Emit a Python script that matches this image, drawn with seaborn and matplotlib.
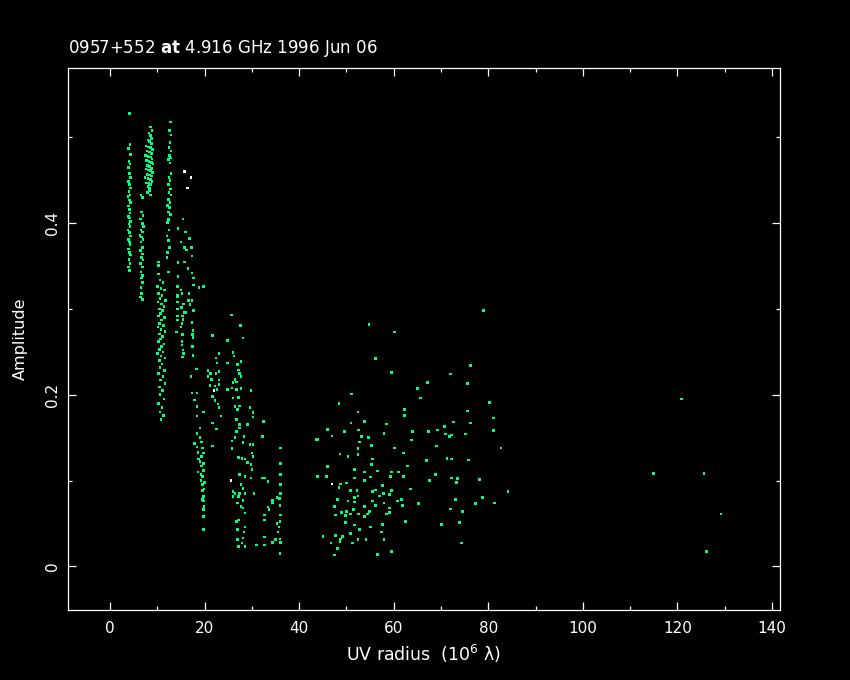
import matplotlib
matplotlib.use("Agg")
import matplotlib.pyplot as plt
from matplotlib import ticker
import seaborn as sns
import pandas as pd

track_4 = [(4.1, 0.528), (4.2, 0.492), (3.9, 0.487), (4.3, 0.480), (4.0, 0.472), (4.2, 0.469), (3.9, 0.465),
           (4.1, 0.458), (4.3, 0.453), (3.9, 0.449), (4.1, 0.445), (4.3, 0.441), (4.0, 0.437), (4.2, 0.433),
           (3.8, 0.431), (4.1, 0.427), (4.3, 0.424), (3.9, 0.420), (4.1, 0.416), (4.2, 0.412), (3.9, 0.408),
           (4.1, 0.406), (4.3, 0.402), (4.0, 0.399), (4.2, 0.396), (3.8, 0.392), (4.1, 0.389), (4.3, 0.385),
           (3.9, 0.381), (4.1, 0.378), (4.2, 0.375), (3.9, 0.370), (4.1, 0.366), (4.3, 0.363), (4.0, 0.358),
           (4.2, 0.353), (3.9, 0.349), (4.1, 0.345)]
track_7 = [(6.5, 0.433), (6.9, 0.430), (6.6, 0.413), (7.0, 0.409), (6.4, 0.405), (6.8, 0.400), (7.1, 0.396),
           (6.5, 0.392), (6.9, 0.390), (6.3, 0.386), (6.7, 0.384), (7.0, 0.381), (6.5, 0.378), (6.8, 0.372),
           (6.4, 0.368), (6.9, 0.364), (6.6, 0.360), (7.0, 0.357), (6.4, 0.353), (6.8, 0.349), (6.5, 0.343),
           (6.9, 0.339), (6.6, 0.336), (6.8, 0.331), (6.5, 0.325), (6.7, 0.318), (6.4, 0.314), (6.8, 0.311)]
track_8 = [(8.6, 0.512), (8.9, 0.508), (8.2, 0.505), (8.5, 0.502), (8.8, 0.499), (8.0, 0.497), (8.4, 0.495),
           (8.7, 0.493), (7.6, 0.490), (8.1, 0.489), (8.6, 0.488), (9.0, 0.486), (7.8, 0.484), (8.3, 0.483),
           (8.8, 0.481), (7.5, 0.479), (8.0, 0.478), (8.5, 0.477), (8.9, 0.475), (7.7, 0.473), (8.2, 0.472),
           (8.7, 0.471), (9.1, 0.469), (7.9, 0.467), (8.4, 0.466), (8.8, 0.464), (7.6, 0.463), (8.1, 0.462),
           (8.6, 0.461), (9.0, 0.459), (7.8, 0.457), (8.3, 0.456), (8.7, 0.455), (7.4, 0.453), (8.0, 0.452),
           (8.5, 0.451), (8.9, 0.449), (7.7, 0.447), (8.2, 0.446), (8.6, 0.445), (8.0, 0.443), (8.4, 0.441),
           (8.3, 0.438), (7.9, 0.436), (8.5, 0.433)]
track_12 = [(12.8, 0.518), (12.6, 0.508), (12.9, 0.503), (12.7, 0.494), (12.5, 0.488), (12.9, 0.484),
            (12.6, 0.479), (12.8, 0.476), (12.4, 0.474), (12.7, 0.470), (12.9, 0.458), (12.5, 0.453),
            (12.7, 0.450), (12.3, 0.445), (12.8, 0.440), (12.5, 0.436), (12.9, 0.433), (12.4, 0.428),
            (12.7, 0.424), (12.2, 0.421), (12.6, 0.418), (12.3, 0.413), (12.8, 0.410), (12.4, 0.404),
            (12.1, 0.401), (12.5, 0.392), (12.0, 0.385), (12.4, 0.380), (12.6, 0.372), (12.2, 0.366),
            (12.0, 0.360)]
track_11 = [(10.2, 0.355), (10.3, 0.351), (10.2, 0.341), (12.3, 0.343), (10.6, 0.334), (11.2, 0.331),
            (10.0, 0.326), (10.8, 0.324), (11.5, 0.322), (10.3, 0.318), (11.0, 0.316), (10.6, 0.312),
            (11.7, 0.310), (10.1, 0.308), (10.9, 0.306), (11.4, 0.303), (10.4, 0.300), (11.1, 0.298),
            (10.7, 0.295), (10.2, 0.292), (11.5, 0.290), (10.9, 0.287), (10.5, 0.283), (11.3, 0.281),
            (10.1, 0.279), (10.8, 0.276), (11.6, 0.274), (10.4, 0.271), (11.1, 0.268), (10.7, 0.265),
            (10.2, 0.262), (11.4, 0.259), (10.9, 0.256), (10.5, 0.253), (11.2, 0.250), (10.0, 0.248),
            (10.8, 0.245), (11.6, 0.243), (10.4, 0.240), (11.0, 0.236), (10.6, 0.232), (11.5, 0.228),
            (10.3, 0.225), (11.2, 0.221), (10.7, 0.217), (11.6, 0.213), (10.4, 0.209), (11.1, 0.205),
            (10.6, 0.200), (11.4, 0.195), (10.3, 0.190), (11.0, 0.185), (10.6, 0.180), (11.3, 0.176),
            (10.8, 0.171)]
track_16 = [(15.4, 0.405), (16.8, 0.382), (15.0, 0.378),
            (16.0, 0.390), (14.4, 0.394), (15.8, 0.372), (17.2, 0.372), (16.2, 0.369), (17.3, 0.362),
            (15.8, 0.355), (14.4, 0.354), (16.5, 0.347), (17.3, 0.342), (14.4, 0.338), (17.6, 0.336),
            (17.6, 0.328), (14.2, 0.326), (15.0, 0.322), (15.2, 0.318), (16.7, 0.318), (14.2, 0.316),
            (14.3, 0.314), (17.3, 0.310), (14.3, 0.308), (15.5, 0.306), (16.9, 0.305), (15.1, 0.302),
            (14.2, 0.300), (15.6, 0.296), (17.7, 0.298), (15.3, 0.292), (14.2, 0.292), (14.3, 0.287),
            (15.4, 0.288), (15.2, 0.283), (17.3, 0.284), (15.0, 0.279), (17.5, 0.275), (14.0, 0.273),
            (15.3, 0.270), (17.5, 0.267), (15.2, 0.262), (15.2, 0.258), (15.4, 0.252), (17.4, 0.256),
            (15.5, 0.248), (17.5, 0.246), (15.3, 0.244), (16.6, 0.310), (16.1, 0.296)]
track_19 = [(17.4, 0.270), (17.5, 0.246), (18.3, 0.230), (17.1, 0.221), (18.4, 0.202), (17.3, 0.202),
            (17.9, 0.194), (18.4, 0.186), (19.8, 0.180), (18.4, 0.175), (19.0, 0.161), (18.4, 0.155),
            (19.0, 0.150), (19.3, 0.145), (17.9, 0.143), (18.4, 0.139), (19.6, 0.138), (19.8, 0.132),
            (18.6, 0.133), (19.4, 0.128), (18.7, 0.125), (19.0, 0.122), (19.8, 0.120), (19.4, 0.117),
            (19.8, 0.112), (18.6, 0.110), (19.2, 0.107), (19.6, 0.105), (19.2, 0.100), (20.0, 0.098),
            (19.6, 0.095), (19.9, 0.090), (19.5, 0.088), (19.8, 0.081), (19.5, 0.078), (19.8, 0.076),
            (19.9, 0.070), (19.8, 0.066), (19.8, 0.058), (19.8, 0.043), (18.8, 0.325), (19.8, 0.326)]
track_22 = [(21.7, 0.269), (22.4, 0.243), (23.0, 0.248), (22.6, 0.237), (20.7, 0.228), (21.3, 0.225),
            (22.4, 0.225), (23.0, 0.227), (20.7, 0.221), (21.5, 0.218), (23.0, 0.217), (21.1, 0.211),
            (22.2, 0.210), (23.0, 0.212), (22.6, 0.206), (21.7, 0.198), (22.2, 0.193), (22.8, 0.189),
            (23.0, 0.185), (21.7, 0.167), (21.7, 0.140), (22.5, 0.160), (23.5, 0.175), (24.9, 0.237),
            (24.8, 0.263), (25.7, 0.293), (27.6, 0.281), (28.1, 0.266)]
track_27 = [(26.0, 0.249), (26.2, 0.245), (27.7, 0.239), (27.0, 0.235), (24.9, 0.237), (27.2, 0.229),
            (27.4, 0.225), (27.7, 0.221), (26.0, 0.214), (26.8, 0.215), (26.4, 0.218), (24.9, 0.206),
            (25.8, 0.208), (26.8, 0.206), (27.7, 0.207), (29.8, 0.205), (26.0, 0.196), (27.2, 0.197),
            (26.4, 0.186), (27.0, 0.183), (27.4, 0.187), (29.6, 0.185), (30.2, 0.179), (30.2, 0.174),
            (26.8, 0.171), (27.4, 0.165), (27.4, 0.161), (29.1, 0.165), (26.8, 0.157), (28.3, 0.151),
            (26.4, 0.150), (25.8, 0.146), (25.8, 0.137), (28.1, 0.144), (29.6, 0.142), (30.2, 0.142),
            (30.0, 0.132), (30.2, 0.128), (27.2, 0.127), (27.9, 0.126), (28.5, 0.125), (29.1, 0.121),
            (29.8, 0.119), (30.0, 0.113), (27.4, 0.107), (28.5, 0.105), (29.8, 0.103), (27.7, 0.095),
            (28.1, 0.091), (26.0, 0.087), (26.4, 0.085), (27.4, 0.085), (28.5, 0.085), (30.4, 0.085),
            (26.0, 0.081), (27.2, 0.081), (28.1, 0.077), (27.0, 0.074), (27.7, 0.070), (28.1, 0.068),
            (28.5, 0.062), (26.8, 0.052), (27.2, 0.054), (28.5, 0.046), (27.0, 0.043), (28.3, 0.040),
            (27.0, 0.031), (28.1, 0.033), (27.9, 0.027), (27.2, 0.023), (28.5, 0.023)]
track_34 = [(32.3, 0.103), (32.7, 0.103), (33.4, 0.099), (31.0, 0.025), (32.7, 0.025), (34.4, 0.077),
            (35.3, 0.080), (35.9, 0.071), (34.4, 0.074), (35.9, 0.085), (35.8, 0.079), (32.7, 0.060),
            (32.7, 0.054), (33.6, 0.066), (33.4, 0.069), (35.3, 0.050), (35.9, 0.052), (35.7, 0.046),
            (35.5, 0.040), (34.4, 0.028), (35.0, 0.031), (35.9, 0.032), (36.1, 0.028), (32.7, 0.034),
            (35.9, 0.015), (36.1, 0.085), (36.1, 0.095), (36.1, 0.107), (36.0, 0.120), (36.1, 0.138),
            (36.1, 0.060), (32.3, 0.151), (32.5, 0.169)]
scatter_long = [(79.0, 0.298), (54.8, 0.282), (60.2, 0.273), (56.2, 0.242), (59.5, 0.226), (76.2, 0.234),
                (72.0, 0.224), (75.6, 0.213), (67.1, 0.214), (65.0, 0.207), (65.7, 0.196), (51.1, 0.201),
                (48.4, 0.190), (80.2, 0.191), (52.4, 0.180), (62.3, 0.183), (75.6, 0.181), (62.3, 0.176),
                (81.1, 0.173), (53.8, 0.169), (51.0, 0.167), (58.5, 0.166), (72.6, 0.168), (76.2, 0.167),
                (46.0, 0.159), (49.6, 0.157), (52.6, 0.159), (57.9, 0.155), (64.0, 0.157), (67.4, 0.157),
                (69.3, 0.159), (70.7, 0.163), (70.9, 0.154), (72.2, 0.153), (71.8, 0.151), (75.2, 0.154),
                (81.1, 0.158), (46.9, 0.152), (53.2, 0.151), (54.7, 0.150), (43.9, 0.148), (52.8, 0.145),
                (63.8, 0.147), (55.3, 0.141), (69.0, 0.140), (82.7, 0.138), (60.2, 0.138), (52.4, 0.137),
                (62.1, 0.132), (48.6, 0.131), (50.3, 0.128), (52.4, 0.130), (55.5, 0.125), (71.3, 0.126),
                (72.2, 0.125), (66.9, 0.123), (75.8, 0.124), (55.3, 0.119), (62.9, 0.117), (46.0, 0.116),
                (51.7, 0.113), (56.6, 0.111), (53.8, 0.110), (59.5, 0.110), (61.0, 0.110), (68.8, 0.107),
                (43.9, 0.105), (59.3, 0.105), (62.1, 0.105), (51.7, 0.103), (55.1, 0.104), (72.2, 0.103),
                (73.5, 0.102), (67.6, 0.100), (73.3, 0.098), (78.1, 0.101), (48.8, 0.096), (50.0, 0.097),
                (48.4, 0.092), (53.8, 0.100), (57.6, 0.094), (50.9, 0.088), (52.2, 0.088), (55.5, 0.087),
                (56.2, 0.089), (57.8, 0.085), (59.5, 0.088), (59.1, 0.084), (63.5, 0.090), (84.2, 0.087),
                (52.4, 0.082), (51.7, 0.080), (57.0, 0.082), (60.8, 0.076), (61.7, 0.078), (48.1, 0.078),
                (50.3, 0.076), (51.7, 0.075), (55.5, 0.076), (57.9, 0.074), (73.1, 0.078), (78.8, 0.080),
                (77.3, 0.073), (81.3, 0.074), (65.2, 0.073), (47.5, 0.070), (53.8, 0.070), (56.2, 0.071),
                (61.9, 0.071), (59.1, 0.068), (72.0, 0.067), (49.0, 0.063), (50.0, 0.064), (51.5, 0.066),
                (54.9, 0.064), (59.1, 0.063), (74.5, 0.064), (47.7, 0.060), (49.8, 0.059), (50.9, 0.061),
                (52.6, 0.061), (53.8, 0.058), (54.5, 0.061), (58.5, 0.061), (62.5, 0.052), (70.1, 0.049),
                (73.9, 0.051), (49.8, 0.051), (51.7, 0.048), (57.6, 0.049), (52.8, 0.043), (55.1, 0.046),
                (57.4, 0.040), (50.9, 0.038), (45.0, 0.035), (47.7, 0.036), (49.2, 0.035), (48.8, 0.032),
                (52.4, 0.031), (54.1, 0.031), (57.9, 0.031), (48.6, 0.029), (46.7, 0.027), (51.3, 0.027),
                (74.3, 0.027), (48.1, 0.021), (56.6, 0.014), (59.5, 0.017), (47.5, 0.013), (43.7, 0.148),
                (46.0, 0.160), (46.0, 0.116), (45.8, 0.105), (45.0, 0.035)]
scatter_far = [(120.9, 0.195), (114.9, 0.108), (125.6, 0.108), (129.2, 0.061), (126.2, 0.017)]
# the few points drawn in white (flagged colour in the original)
white_pts = [(15.8, 0.460), (17.1, 0.453), (16.4, 0.441), (46.9, 0.096), (22.0, 0.205), (25.6, 0.100)]

title = "0957+552 $\\mathbf{at}$ 4.916 GHz 1996 Jun 06"
xlabel = "UV radius  (10$^{6}$ λ)"
ylabel = "Amplitude"

green_groups = [track_4, track_7, track_8, track_12, track_11, track_16, track_19,
                track_22, track_27, track_34, scatter_long, scatter_far]
rows = []
for grp in green_groups:
    for x, y in grp:
        rows.append((x, y, "good"))
for x, y in white_pts:
    rows.append((x, y, "flag"))
df = pd.DataFrame(rows, columns=["uv", "amp", "kind"])

sns.set_style("ticks")
plt.rcParams["font.family"] = ["DejaVu Sans"]
fg = "white"

fig = plt.figure(figsize=(8.5, 6.8), dpi=100, facecolor="black")
ax = fig.add_axes([68 / 850, 70 / 680, 712 / 850, 542 / 680])
ax.set_facecolor("black")

sns.scatterplot(data=df, x="uv", y="amp", hue="kind",
                palette={"good": "#00ff80", "flag": "#ffffff"},
                marker="s", s=3.5, linewidth=0, legend=False, ax=ax)

ax.set_xlim(-8.9, 141.7)
ax.set_ylim(-0.051, 0.581)
ax.xaxis.set_major_locator(ticker.MultipleLocator(20))
ax.xaxis.set_minor_locator(ticker.MultipleLocator(10))
ax.yaxis.set_major_locator(ticker.MultipleLocator(0.2))
ax.yaxis.set_minor_locator(ticker.MultipleLocator(0.1))
ax.yaxis.set_major_formatter(ticker.FuncFormatter(lambda v, p: "%g" % round(v, 3)))

for sp in ax.spines.values():
    sp.set_color(fg)
    sp.set_linewidth(0.9)
ax.tick_params(which="both", direction="in", top=True, right=True, colors=fg, width=0.9)
ax.tick_params(which="major", length=6)
ax.tick_params(which="minor", length=3)
ax.tick_params(axis="x", labelsize=11, pad=8)
ax.tick_params(axis="y", labelsize=11, pad=6)
for lbl in ax.get_yticklabels():
    lbl.set_rotation(90)
    lbl.set_va("center")

ax.set_xlabel(xlabel, color=fg, fontsize=12.5, labelpad=5)
ax.set_ylabel(ylabel, color=fg, fontsize=11.5, labelpad=12)
ax.text(0, 1.028, title, transform=ax.transAxes, color=fg, fontsize=12,
        ha="left", va="baseline")

fig.savefig("out.png", dpi=100, facecolor="black")
